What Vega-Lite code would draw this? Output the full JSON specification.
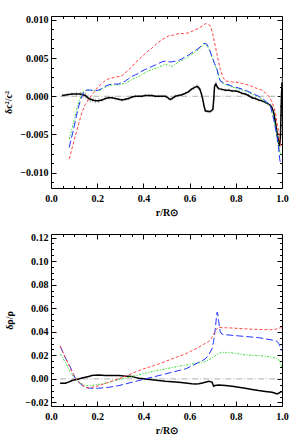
{
"$schema":"https://vega.github.io/schema/vega-lite/v6.json",
"padding":{"left":3,"top":14,"right":5,"bottom":0},
"spacing":14,
"config":{"axis":{"labelFont":"Liberation Serif","labelFontWeight":"bold","labelFontSize":10,"titleFont":"Liberation Serif","titleFontWeight":"bold","titleFontSize":10,"tickColor":"black","labelColor":"black","titleColor":"black","grid":false,"domain":false,"labelOverlap":false,"labelFlush":false,"tickWidth":1},"view":{"stroke":"black","strokeWidth":1}},
"datasets":{
"top":[
{"s":"zero","x":0.04,"y":0},{"s":"zero","x":1.0,"y":0},
{"s":"red","x":0.079,"y":-0.0082},{"s":"red","x":0.092,"y":-0.0067},{"s":"red","x":0.105,"y":-0.0052},{"s":"red","x":0.12,"y":-0.0036},{"s":"red","x":0.134,"y":-0.0021},{"s":"red","x":0.148,"y":-0.0011},{"s":"red","x":0.163,"y":-0.0004},{"s":"red","x":0.185,"y":0.0005},{"s":"red","x":0.206,"y":0.0013},{"s":"red","x":0.228,"y":0.0019},{"s":"red","x":0.25,"y":0.0023},{"s":"red","x":0.28,"y":0.0025},{"s":"red","x":0.307,"y":0.0027},{"s":"red","x":0.33,"y":0.0033},{"s":"red","x":0.351,"y":0.0039},{"s":"red","x":0.372,"y":0.0046},{"s":"red","x":0.394,"y":0.0052},{"s":"red","x":0.415,"y":0.0058},{"s":"red","x":0.437,"y":0.0063},{"s":"red","x":0.458,"y":0.0069},{"s":"red","x":0.48,"y":0.0074},{"s":"red","x":0.509,"y":0.0079},{"s":"red","x":0.53,"y":0.008},{"s":"red","x":0.553,"y":0.0082},{"s":"red","x":0.575,"y":0.0082},{"s":"red","x":0.596,"y":0.0083},{"s":"red","x":0.618,"y":0.0086},{"s":"red","x":0.64,"y":0.0089},{"s":"red","x":0.655,"y":0.0092},{"s":"red","x":0.668,"y":0.0095},{"s":"red","x":0.68,"y":0.0094},{"s":"red","x":0.69,"y":0.0092},{"s":"red","x":0.7,"y":0.0082},{"s":"red","x":0.711,"y":0.0066},{"s":"red","x":0.722,"y":0.005},{"s":"red","x":0.733,"y":0.0035},{"s":"red","x":0.744,"y":0.0025},{"s":"red","x":0.755,"y":0.002},{"s":"red","x":0.78,"y":0.0019},{"s":"red","x":0.812,"y":0.0018},{"s":"red","x":0.84,"y":0.0016},{"s":"red","x":0.87,"y":0.0013},{"s":"red","x":0.893,"y":0.001},{"s":"red","x":0.913,"y":0.0008},{"s":"red","x":0.93,"y":0.0004},{"s":"red","x":0.942,"y":0.0},{"s":"red","x":0.954,"y":-0.0006},{"s":"red","x":0.964,"y":-0.0013},{"s":"red","x":0.972,"y":-0.0022},{"s":"red","x":0.978,"y":-0.0034},{"s":"red","x":0.986,"y":-0.0048},{"s":"red","x":0.993,"y":-0.0062},{"s":"red","x":0.997,"y":-0.0066},
{"s":"blue","x":0.079,"y":-0.0067},{"s":"blue","x":0.088,"y":-0.0055},{"s":"blue","x":0.098,"y":-0.0043},{"s":"blue","x":0.109,"y":-0.0027},{"s":"blue","x":0.12,"y":-0.0013},{"s":"blue","x":0.13,"y":-0.0003},{"s":"blue","x":0.141,"y":0.0005},{"s":"blue","x":0.152,"y":0.0008},{"s":"blue","x":0.163,"y":0.0008},{"s":"blue","x":0.177,"y":0.0008},{"s":"blue","x":0.19,"y":0.0007},{"s":"blue","x":0.205,"y":0.0008},{"s":"blue","x":0.214,"y":0.0009},{"s":"blue","x":0.235,"y":0.0013},{"s":"blue","x":0.25,"y":0.0015},{"s":"blue","x":0.264,"y":0.0016},{"s":"blue","x":0.28,"y":0.0016},{"s":"blue","x":0.293,"y":0.0016},{"s":"blue","x":0.307,"y":0.0018},{"s":"blue","x":0.322,"y":0.002},{"s":"blue","x":0.336,"y":0.0023},{"s":"blue","x":0.351,"y":0.0026},{"s":"blue","x":0.365,"y":0.0028},{"s":"blue","x":0.38,"y":0.003},{"s":"blue","x":0.394,"y":0.0033},{"s":"blue","x":0.408,"y":0.0035},{"s":"blue","x":0.423,"y":0.0037},{"s":"blue","x":0.437,"y":0.0039},{"s":"blue","x":0.452,"y":0.0041},{"s":"blue","x":0.466,"y":0.0043},{"s":"blue","x":0.48,"y":0.0045},{"s":"blue","x":0.495,"y":0.0046},{"s":"blue","x":0.51,"y":0.0045},{"s":"blue","x":0.524,"y":0.0045},{"s":"blue","x":0.538,"y":0.0046},{"s":"blue","x":0.553,"y":0.0047},{"s":"blue","x":0.567,"y":0.0049},{"s":"blue","x":0.582,"y":0.0052},{"s":"blue","x":0.596,"y":0.0054},{"s":"blue","x":0.61,"y":0.0057},{"s":"blue","x":0.625,"y":0.006},{"s":"blue","x":0.64,"y":0.0063},{"s":"blue","x":0.651,"y":0.0066},{"s":"blue","x":0.661,"y":0.0069},{"s":"blue","x":0.668,"y":0.0069},{"s":"blue","x":0.675,"y":0.0068},{"s":"blue","x":0.686,"y":0.0061},{"s":"blue","x":0.697,"y":0.0052},{"s":"blue","x":0.708,"y":0.0043},{"s":"blue","x":0.719,"y":0.0035},{"s":"blue","x":0.726,"y":0.0026},{"s":"blue","x":0.733,"y":0.002},{"s":"blue","x":0.745,"y":0.0018},{"s":"blue","x":0.755,"y":0.0016},{"s":"blue","x":0.77,"y":0.0015},{"s":"blue","x":0.784,"y":0.0013},{"s":"blue","x":0.81,"y":0.0011},{"s":"blue","x":0.841,"y":0.0008},{"s":"blue","x":0.87,"y":0.0004},{"s":"blue","x":0.899,"y":0.0},{"s":"blue","x":0.92,"y":-0.0004},{"s":"blue","x":0.935,"y":-0.0008},{"s":"blue","x":0.95,"y":-0.0013},{"s":"blue","x":0.957,"y":-0.0021},{"s":"blue","x":0.964,"y":-0.003},{"s":"blue","x":0.971,"y":-0.0041},{"s":"blue","x":0.978,"y":-0.0052},{"s":"blue","x":0.985,"y":-0.0067},{"s":"blue","x":0.99,"y":-0.0082},{"s":"blue","x":0.994,"y":-0.0089},
{"s":"green","x":0.079,"y":-0.0056},{"s":"green","x":0.088,"y":-0.0045},{"s":"green","x":0.098,"y":-0.0034},{"s":"green","x":0.109,"y":-0.002},{"s":"green","x":0.12,"y":-0.0008},{"s":"green","x":0.13,"y":0.0},{"s":"green","x":0.141,"y":0.0006},{"s":"green","x":0.152,"y":0.0008},{"s":"green","x":0.163,"y":0.0008},{"s":"green","x":0.19,"y":0.0007},{"s":"green","x":0.214,"y":0.0008},{"s":"green","x":0.235,"y":0.0012},{"s":"green","x":0.264,"y":0.0015},{"s":"green","x":0.293,"y":0.0015},{"s":"green","x":0.322,"y":0.0017},{"s":"green","x":0.351,"y":0.0022},{"s":"green","x":0.38,"y":0.0026},{"s":"green","x":0.408,"y":0.0031},{"s":"green","x":0.437,"y":0.0035},{"s":"green","x":0.466,"y":0.0038},{"s":"green","x":0.495,"y":0.0042},{"s":"green","x":0.51,"y":0.004},{"s":"green","x":0.524,"y":0.0039},{"s":"green","x":0.538,"y":0.0042},{"s":"green","x":0.553,"y":0.0045},{"s":"green","x":0.567,"y":0.0047},{"s":"green","x":0.582,"y":0.0049},{"s":"green","x":0.61,"y":0.0055},{"s":"green","x":0.625,"y":0.0058},{"s":"green","x":0.64,"y":0.0061},{"s":"green","x":0.655,"y":0.0066},{"s":"green","x":0.665,"y":0.0068},{"s":"green","x":0.675,"y":0.0067},{"s":"green","x":0.686,"y":0.006},{"s":"green","x":0.697,"y":0.0051},{"s":"green","x":0.708,"y":0.0042},{"s":"green","x":0.719,"y":0.0034},{"s":"green","x":0.733,"y":0.0019},{"s":"green","x":0.755,"y":0.0015},{"s":"green","x":0.784,"y":0.0012},{"s":"green","x":0.841,"y":0.0007},{"s":"green","x":0.899,"y":-0.0001},{"s":"green","x":0.935,"y":-0.0009},{"s":"green","x":0.95,"y":-0.0013},{"s":"green","x":0.964,"y":-0.003},{"s":"green","x":0.978,"y":-0.005},{"s":"green","x":0.988,"y":-0.0068},{"s":"green","x":0.995,"y":-0.0078},
{"s":"black","x":0.048,"y":0.0001,"err":0.0002},{"s":"black","x":0.07,"y":0.0002,"err":0.0002},{"s":"black","x":0.091,"y":0.0003,"err":0.0002},{"s":"black","x":0.11,"y":0.0003,"err":0.0003},{"s":"black","x":0.127,"y":0.0003,"err":0.0003},{"s":"black","x":0.138,"y":0.0002,"err":0.0004},{"s":"black","x":0.149,"y":0.0001,"err":0.0004},{"s":"black","x":0.16,"y":-0.0002,"err":0.0004},{"s":"black","x":0.17,"y":-0.0004,"err":0.0004},{"s":"black","x":0.181,"y":-0.0005,"err":0.0003},{"s":"black","x":0.192,"y":-0.0006,"err":0.0003},{"s":"black","x":0.206,"y":-0.0006,"err":0.0003},{"s":"black","x":0.221,"y":-0.0005,"err":0.0002},{"s":"black","x":0.235,"y":-0.0003,"err":0.0002},{"s":"black","x":0.25,"y":-0.0002,"err":0.0002},{"s":"black","x":0.264,"y":-0.0002,"err":0.0002},{"s":"black","x":0.278,"y":-0.0003,"err":0.0002},{"s":"black","x":0.293,"y":-0.0004,"err":0.0002},{"s":"black","x":0.307,"y":-0.0005,"err":0.0002},{"s":"black","x":0.322,"y":-0.0004,"err":0.0002},{"s":"black","x":0.336,"y":-0.0003,"err":0.0002},{"s":"black","x":0.35,"y":-0.0001,"err":0.0002},{"s":"black","x":0.365,"y":0.0,"err":0.0002},{"s":"black","x":0.38,"y":0.0,"err":0.0002},{"s":"black","x":0.394,"y":0.0,"err":0.0002},{"s":"black","x":0.408,"y":0.0001,"err":0.0002},{"s":"black","x":0.423,"y":0.0001,"err":0.0002},{"s":"black","x":0.437,"y":0.0001,"err":0.0002},{"s":"black","x":0.452,"y":0.0,"err":0.0002},{"s":"black","x":0.466,"y":0.0,"err":0.0002},{"s":"black","x":0.48,"y":0.0,"err":0.0002},{"s":"black","x":0.495,"y":0.0,"err":0.0002},{"s":"black","x":0.502,"y":-0.0001,"err":0.0002},{"s":"black","x":0.51,"y":-0.0003,"err":0.0002},{"s":"black","x":0.517,"y":-0.0004,"err":0.0002},{"s":"black","x":0.524,"y":-0.0003,"err":0.0002},{"s":"black","x":0.538,"y":0.0,"err":0.0002},{"s":"black","x":0.553,"y":0.0001,"err":0.0002},{"s":"black","x":0.567,"y":0.0002,"err":0.0002},{"s":"black","x":0.582,"y":0.0004,"err":0.0002},{"s":"black","x":0.596,"y":0.0006,"err":0.0002},{"s":"black","x":0.607,"y":0.0009,"err":0.0002},{"s":"black","x":0.618,"y":0.0011,"err":0.0003},{"s":"black","x":0.632,"y":0.0013,"err":0.0003},{"s":"black","x":0.64,"y":0.0011,"err":0.0003},{"s":"black","x":0.646,"y":0.0008,"err":0.0003},{"s":"black","x":0.652,"y":0.0002,"err":0.0003},{"s":"black","x":0.657,"y":-0.0004,"err":0.0003},{"s":"black","x":0.662,"y":-0.0012,"err":0.0003},{"s":"black","x":0.668,"y":-0.0019,"err":0.0002},{"s":"black","x":0.68,"y":-0.002,"err":0.0002},{"s":"black","x":0.69,"y":-0.002,"err":0.0002},{"s":"black","x":0.701,"y":-0.0017,"err":0.0003},{"s":"black","x":0.705,"y":-0.0002,"err":0.0003},{"s":"black","x":0.708,"y":0.0013,"err":0.0003},{"s":"black","x":0.714,"y":0.0016,"err":0.0003},{"s":"black","x":0.72,"y":0.0012,"err":0.0002},{"s":"black","x":0.726,"y":0.001,"err":0.0002},{"s":"black","x":0.74,"y":0.0009,"err":0.0002},{"s":"black","x":0.755,"y":0.0008,"err":0.0002},{"s":"black","x":0.77,"y":0.0008,"err":0.0002},{"s":"black","x":0.784,"y":0.0007,"err":0.0002},{"s":"black","x":0.8,"y":0.0007,"err":0.0002},{"s":"black","x":0.812,"y":0.0006,"err":0.0002},{"s":"black","x":0.826,"y":0.0004,"err":0.0002},{"s":"black","x":0.841,"y":0.0003,"err":0.0002},{"s":"black","x":0.855,"y":0.0001,"err":0.0002},{"s":"black","x":0.87,"y":-0.0002,"err":0.0002},{"s":"black","x":0.885,"y":-0.0003,"err":0.0002},{"s":"black","x":0.899,"y":-0.0005,"err":0.0002},{"s":"black","x":0.913,"y":-0.0006,"err":0.0002},{"s":"black","x":0.928,"y":-0.0008,"err":0.0002},{"s":"black","x":0.94,"y":-0.001,"err":0.0002},{"s":"black","x":0.95,"y":-0.0012,"err":0.0002},{"s":"black","x":0.957,"y":-0.0015,"err":0.0003},{"s":"black","x":0.964,"y":-0.0021,"err":0.0003},{"s":"black","x":0.971,"y":-0.0033,"err":0.0004},{"s":"black","x":0.978,"y":-0.0047,"err":0.0005},{"s":"black","x":0.984,"y":-0.0058,"err":0.0006},{"s":"black","x":0.988,"y":-0.0065,"err":0.0008},{"s":"black","x":0.993,"y":-0.0056,"err":0.001},{"s":"black","x":0.997,"y":-0.0008,"err":0.0015},{"s":"black","x":1.0,"y":0.0018,"err":0.0008}
],
"bot":[
{"s":"zero","x":0.04,"y":0},{"s":"zero","x":1.0,"y":0},
{"s":"red","x":0.04,"y":0.028},{"s":"red","x":0.051,"y":0.023},{"s":"red","x":0.062,"y":0.018},{"s":"red","x":0.073,"y":0.0135},{"s":"red","x":0.084,"y":0.0088},{"s":"red","x":0.095,"y":0.0045},{"s":"red","x":0.105,"y":0.0006},{"s":"red","x":0.12,"y":-0.0025},{"s":"red","x":0.134,"y":-0.0048},{"s":"red","x":0.145,"y":-0.0065},{"s":"red","x":0.156,"y":-0.0076},{"s":"red","x":0.166,"y":-0.0077},{"s":"red","x":0.177,"y":-0.0071},{"s":"red","x":0.19,"y":-0.0066},{"s":"red","x":0.206,"y":-0.0057},{"s":"red","x":0.228,"y":-0.0043},{"s":"red","x":0.25,"y":-0.0028},{"s":"red","x":0.27,"y":-0.0015},{"s":"red","x":0.293,"y":0.0},{"s":"red","x":0.315,"y":0.0017},{"s":"red","x":0.336,"y":0.0034},{"s":"red","x":0.358,"y":0.0052},{"s":"red","x":0.38,"y":0.0071},{"s":"red","x":0.4,"y":0.0085},{"s":"red","x":0.423,"y":0.0099},{"s":"red","x":0.445,"y":0.0113},{"s":"red","x":0.466,"y":0.0127},{"s":"red","x":0.495,"y":0.0148},{"s":"red","x":0.524,"y":0.017},{"s":"red","x":0.553,"y":0.0191},{"s":"red","x":0.582,"y":0.0212},{"s":"red","x":0.61,"y":0.024},{"s":"red","x":0.64,"y":0.0269},{"s":"red","x":0.66,"y":0.0293},{"s":"red","x":0.683,"y":0.0317},{"s":"red","x":0.694,"y":0.0345},{"s":"red","x":0.704,"y":0.038},{"s":"red","x":0.715,"y":0.042},{"s":"red","x":0.726,"y":0.0437},{"s":"red","x":0.74,"y":0.0435},{"s":"red","x":0.755,"y":0.0434},{"s":"red","x":0.784,"y":0.0432},{"s":"red","x":0.812,"y":0.0428},{"s":"red","x":0.841,"y":0.0425},{"s":"red","x":0.87,"y":0.0422},{"s":"red","x":0.9,"y":0.042},{"s":"red","x":0.928,"y":0.0418},{"s":"red","x":0.95,"y":0.0418},{"s":"red","x":0.971,"y":0.0421},{"s":"red","x":0.985,"y":0.0428},{"s":"red","x":0.993,"y":0.0436},{"s":"red","x":1.0,"y":0.043},
{"s":"blue","x":0.04,"y":0.0277},{"s":"blue","x":0.051,"y":0.0228},{"s":"blue","x":0.062,"y":0.018},{"s":"blue","x":0.073,"y":0.014},{"s":"blue","x":0.084,"y":0.0099},{"s":"blue","x":0.095,"y":0.005},{"s":"blue","x":0.105,"y":0.0006},{"s":"blue","x":0.116,"y":-0.002},{"s":"blue","x":0.127,"y":-0.0042},{"s":"blue","x":0.138,"y":-0.006},{"s":"blue","x":0.149,"y":-0.0071},{"s":"blue","x":0.16,"y":-0.0077},{"s":"blue","x":0.17,"y":-0.0079},{"s":"blue","x":0.19,"y":-0.008},{"s":"blue","x":0.206,"y":-0.0079},{"s":"blue","x":0.228,"y":-0.0076},{"s":"blue","x":0.25,"y":-0.0071},{"s":"blue","x":0.27,"y":-0.0065},{"s":"blue","x":0.293,"y":-0.0057},{"s":"blue","x":0.322,"y":-0.0043},{"s":"blue","x":0.351,"y":-0.0028},{"s":"blue","x":0.38,"y":-0.0014},{"s":"blue","x":0.408,"y":0.0},{"s":"blue","x":0.437,"y":0.0014},{"s":"blue","x":0.466,"y":0.0028},{"s":"blue","x":0.495,"y":0.0042},{"s":"blue","x":0.524,"y":0.0057},{"s":"blue","x":0.553,"y":0.0071},{"s":"blue","x":0.582,"y":0.0085},{"s":"blue","x":0.61,"y":0.011},{"s":"blue","x":0.64,"y":0.0141},{"s":"blue","x":0.655,"y":0.0155},{"s":"blue","x":0.668,"y":0.017},{"s":"blue","x":0.683,"y":0.0205},{"s":"blue","x":0.697,"y":0.0255},{"s":"blue","x":0.704,"y":0.032},{"s":"blue","x":0.711,"y":0.042},{"s":"blue","x":0.715,"y":0.05},{"s":"blue","x":0.719,"y":0.0566},{"s":"blue","x":0.722,"y":0.055},{"s":"blue","x":0.726,"y":0.049},{"s":"blue","x":0.73,"y":0.043},{"s":"blue","x":0.733,"y":0.04},{"s":"blue","x":0.74,"y":0.038},{"s":"blue","x":0.755,"y":0.0375},{"s":"blue","x":0.784,"y":0.037},{"s":"blue","x":0.812,"y":0.0365},{"s":"blue","x":0.841,"y":0.036},{"s":"blue","x":0.87,"y":0.0355},{"s":"blue","x":0.899,"y":0.035},{"s":"blue","x":0.928,"y":0.034},{"s":"blue","x":0.957,"y":0.033},{"s":"blue","x":0.978,"y":0.032},{"s":"blue","x":0.986,"y":0.03},{"s":"blue","x":0.993,"y":0.027},{"s":"blue","x":0.997,"y":0.024},
{"s":"green","x":0.04,"y":0.021},{"s":"green","x":0.051,"y":0.0175},{"s":"green","x":0.062,"y":0.0141},{"s":"green","x":0.073,"y":0.01},{"s":"green","x":0.084,"y":0.0057},{"s":"green","x":0.095,"y":0.0025},{"s":"green","x":0.105,"y":0.0},{"s":"green","x":0.12,"y":-0.0022},{"s":"green","x":0.134,"y":-0.0042},{"s":"green","x":0.145,"y":-0.0052},{"s":"green","x":0.156,"y":-0.0057},{"s":"green","x":0.17,"y":-0.0057},{"s":"green","x":0.19,"y":-0.0051},{"s":"green","x":0.21,"y":-0.0045},{"s":"green","x":0.235,"y":-0.0037},{"s":"green","x":0.256,"y":-0.0027},{"s":"green","x":0.278,"y":-0.0014},{"s":"green","x":0.3,"y":-0.0003},{"s":"green","x":0.322,"y":0.0008},{"s":"green","x":0.35,"y":0.002},{"s":"green","x":0.38,"y":0.0034},{"s":"green","x":0.408,"y":0.0048},{"s":"green","x":0.437,"y":0.0062},{"s":"green","x":0.466,"y":0.0074},{"s":"green","x":0.495,"y":0.0085},{"s":"green","x":0.524,"y":0.0096},{"s":"green","x":0.553,"y":0.0107},{"s":"green","x":0.582,"y":0.0117},{"s":"green","x":0.61,"y":0.0127},{"s":"green","x":0.64,"y":0.0137},{"s":"green","x":0.668,"y":0.0147},{"s":"green","x":0.69,"y":0.017},{"s":"green","x":0.711,"y":0.0198},{"s":"green","x":0.725,"y":0.0215},{"s":"green","x":0.74,"y":0.0226},{"s":"green","x":0.76,"y":0.0225},{"s":"green","x":0.784,"y":0.0221},{"s":"green","x":0.81,"y":0.0213},{"s":"green","x":0.841,"y":0.0204},{"s":"green","x":0.87,"y":0.0201},{"s":"green","x":0.899,"y":0.0198},{"s":"green","x":0.93,"y":0.0192},{"s":"green","x":0.957,"y":0.0184},{"s":"green","x":0.975,"y":0.0175},{"s":"green","x":0.986,"y":0.0164},{"s":"green","x":0.993,"y":0.013},{"s":"green","x":1.0,"y":0.0099},
{"s":"black","x":0.04,"y":-0.0037,"err":0.0008},{"s":"black","x":0.051,"y":-0.0037,"err":0.0008},{"s":"black","x":0.062,"y":-0.0037,"err":0.0007},{"s":"black","x":0.076,"y":-0.0027,"err":0.0006},{"s":"black","x":0.091,"y":-0.0014,"err":0.0005},{"s":"black","x":0.105,"y":-0.0007,"err":0.0004},{"s":"black","x":0.12,"y":0.0,"err":0.0004},{"s":"black","x":0.134,"y":0.0007,"err":0.0003},{"s":"black","x":0.149,"y":0.0014,"err":0.0003},{"s":"black","x":0.163,"y":0.0021,"err":0.0003},{"s":"black","x":0.177,"y":0.0028,"err":0.0002},{"s":"black","x":0.19,"y":0.0032,"err":0.0002},{"s":"black","x":0.206,"y":0.0034,"err":0.0002},{"s":"black","x":0.22,"y":0.0031,"err":0.0002},{"s":"black","x":0.235,"y":0.0028,"err":0.0002},{"s":"black","x":0.25,"y":0.0028,"err":0.0002},{"s":"black","x":0.264,"y":0.0028,"err":0.0002},{"s":"black","x":0.278,"y":0.0029,"err":0.0002},{"s":"black","x":0.293,"y":0.0028,"err":0.0002},{"s":"black","x":0.307,"y":0.0026,"err":0.0002},{"s":"black","x":0.322,"y":0.0023,"err":0.0002},{"s":"black","x":0.336,"y":0.0022,"err":0.0002},{"s":"black","x":0.351,"y":0.002,"err":0.0002},{"s":"black","x":0.365,"y":0.0013,"err":0.0002},{"s":"black","x":0.38,"y":0.0006,"err":0.0002},{"s":"black","x":0.394,"y":0.0003,"err":0.0002},{"s":"black","x":0.408,"y":0.0,"err":0.0002},{"s":"black","x":0.437,"y":-0.0008,"err":0.0002},{"s":"black","x":0.466,"y":-0.0014,"err":0.0002},{"s":"black","x":0.495,"y":-0.002,"err":0.0002},{"s":"black","x":0.524,"y":-0.0024,"err":0.0002},{"s":"black","x":0.553,"y":-0.0028,"err":0.0002},{"s":"black","x":0.582,"y":-0.0035,"err":0.0002},{"s":"black","x":0.61,"y":-0.0042,"err":0.0002},{"s":"black","x":0.625,"y":-0.0044,"err":0.0002},{"s":"black","x":0.64,"y":-0.0042,"err":0.0002},{"s":"black","x":0.655,"y":-0.0035,"err":0.0002},{"s":"black","x":0.668,"y":-0.0028,"err":0.0002},{"s":"black","x":0.683,"y":-0.002,"err":0.0002},{"s":"black","x":0.69,"y":-0.0023,"err":0.0002},{"s":"black","x":0.697,"y":-0.0028,"err":0.0002},{"s":"black","x":0.701,"y":-0.0045,"err":0.0003},{"s":"black","x":0.704,"y":-0.0062,"err":0.0003},{"s":"black","x":0.71,"y":-0.0055,"err":0.0002},{"s":"black","x":0.726,"y":-0.0051,"err":0.0002},{"s":"black","x":0.755,"y":-0.0056,"err":0.0002},{"s":"black","x":0.784,"y":-0.0062,"err":0.0002},{"s":"black","x":0.812,"y":-0.007,"err":0.0002},{"s":"black","x":0.841,"y":-0.0079,"err":0.0002},{"s":"black","x":0.87,"y":-0.0089,"err":0.0002},{"s":"black","x":0.899,"y":-0.0099,"err":0.0002},{"s":"black","x":0.928,"y":-0.0106,"err":0.0002},{"s":"black","x":0.957,"y":-0.0113,"err":0.0002},{"s":"black","x":0.971,"y":-0.0122,"err":0.0003},{"s":"black","x":0.978,"y":-0.0127,"err":0.0004},{"s":"black","x":0.985,"y":-0.0122,"err":0.0004},{"s":"black","x":0.993,"y":-0.0113,"err":0.0003},{"s":"black","x":1.0,"y":-0.0105,"err":0.0003}
]
},
"vconcat":[
{
"width":231,"height":172,
"data":{"name":"top"},
"resolve":{"axis":{"x":"independent","y":"independent"}},
"layer":[
{"transform":[{"filter":"datum.s==='zero'"}],"mark":{"type":"line","color":"#b0b0b0","strokeDash":[6,2,1,2],"strokeWidth":1},
 "encoding":{
  "x":{"field":"x","type":"quantitative","scale":{"domain":[0,1],"nice":false,"zero":false},
   "axis":{"orient":"bottom","values":[0,0.05,0.1,0.15,0.2,0.25,0.3,0.35,0.4,0.45,0.5,0.55,0.6,0.65,0.7,0.75,0.8,0.85,0.9,0.95,1],"labelExpr":"abs(datum.value*5-round(datum.value*5))<1e-6 ? format(datum.value,'.1f') : ''","tickSize":{"condition":{"test":"abs(datum.value*5-round(datum.value*5))<1e-6","value":-5},"value":-2.5},"title":"r/R⊙","labelPadding":10,"titlePadding":2}},
  "y":{"field":"y","type":"quantitative","scale":{"domain":[-0.012,0.0105],"nice":false,"zero":false},
   "axis":{"orient":"left","values":[-0.01125,-0.01,-0.00875,-0.0075,-0.00625,-0.005,-0.00375,-0.0025,-0.00125,0,0.00125,0.0025,0.00375,0.005,0.00625,0.0075,0.00875,0.01],"labelExpr":"abs(datum.value*200-round(datum.value*200))<1e-6 ? format(datum.value,'.3f') : ''","tickSize":{"condition":{"test":"abs(datum.value*200-round(datum.value*200))<1e-6","value":-5},"value":-2.5},"title":"δc²/c²","labelPadding":8,"titlePadding":6}}
 }},
{"transform":[{"filter":"datum.s==='zero'"}],"mark":{"type":"line","opacity":0},
 "encoding":{
  "x":{"field":"x","type":"quantitative","axis":{"orient":"top","values":[0,0.05,0.1,0.15,0.2,0.25,0.3,0.35,0.4,0.45,0.5,0.55,0.6,0.65,0.7,0.75,0.8,0.85,0.9,0.95,1],"labels":false,"title":null,"tickSize":{"condition":{"test":"abs(datum.value*5-round(datum.value*5))<1e-6","value":-5},"value":-2.5}}},
  "y":{"field":"y","type":"quantitative","axis":{"orient":"right","values":[-0.01125,-0.01,-0.00875,-0.0075,-0.00625,-0.005,-0.00375,-0.0025,-0.00125,0,0.00125,0.0025,0.00375,0.005,0.00625,0.0075,0.00875,0.01],"labels":false,"title":null,"tickSize":{"condition":{"test":"abs(datum.value*200-round(datum.value*200))<1e-6","value":-5},"value":-2.5}}}
 }},
{"transform":[{"filter":"datum.s==='black'"}],"mark":{"type":"errorbar","color":"#a0a0a0","thickness":0.8},
 "encoding":{"x":{"field":"x","type":"quantitative","axis":null},"y":{"field":"y","type":"quantitative","axis":null},"yError":{"field":"err"}}},
{"transform":[{"filter":"datum.s==='black'"}],"mark":{"type":"line","color":"black","strokeWidth":1.5},
 "encoding":{"x":{"field":"x","type":"quantitative","axis":null},"y":{"field":"y","type":"quantitative","axis":null}}},
{"transform":[{"filter":"datum.s==='green'"}],"mark":{"type":"line","color":"#33dd33","strokeWidth":1,"strokeDash":[2,1.5,1,1.5]},
 "encoding":{"x":{"field":"x","type":"quantitative","axis":null},"y":{"field":"y","type":"quantitative","axis":null}}},
{"transform":[{"filter":"datum.s==='blue'"}],"mark":{"type":"line","color":"#2233ff","strokeWidth":1,"strokeDash":[7,3]},
 "encoding":{"x":{"field":"x","type":"quantitative","axis":null},"y":{"field":"y","type":"quantitative","axis":null}}},
{"transform":[{"filter":"datum.s==='red'"}],"mark":{"type":"line","color":"#ff4444","strokeWidth":1,"strokeDash":[3,2]},
 "encoding":{"x":{"field":"x","type":"quantitative","axis":null},"y":{"field":"y","type":"quantitative","axis":null}}}
]
},
{
"width":231,"height":172,
"data":{"name":"bot"},
"resolve":{"axis":{"x":"independent","y":"independent"}},
"layer":[
{"transform":[{"filter":"datum.s==='zero'"}],"mark":{"type":"line","color":"#b0b0b0","strokeDash":[6,2,1,2],"strokeWidth":1},
 "encoding":{
  "x":{"field":"x","type":"quantitative","scale":{"domain":[0,1],"nice":false,"zero":false},
   "axis":{"orient":"bottom","values":[0,0.05,0.1,0.15,0.2,0.25,0.3,0.35,0.4,0.45,0.5,0.55,0.6,0.65,0.7,0.75,0.8,0.85,0.9,0.95,1],"labelExpr":"abs(datum.value*5-round(datum.value*5))<1e-6 ? format(datum.value,'.1f') : ''","tickSize":{"condition":{"test":"abs(datum.value*5-round(datum.value*5))<1e-6","value":-5},"value":-2.5},"title":"r/R⊙","labelPadding":10,"titlePadding":2}},
  "y":{"field":"y","type":"quantitative","scale":{"domain":[-0.023,0.123],"nice":false,"zero":false},
   "axis":{"orient":"left","values":[-0.02,-0.015,-0.01,-0.005,0,0.005,0.01,0.015,0.02,0.025,0.03,0.035,0.04,0.045,0.05,0.055,0.06,0.065,0.07,0.075,0.08,0.085,0.09,0.095,0.1,0.105,0.11,0.115,0.12],"labelExpr":"abs(datum.value*50-round(datum.value*50))<1e-6 ? format(datum.value,'.2f') : ''","tickSize":{"condition":{"test":"abs(datum.value*50-round(datum.value*50))<1e-6","value":-5},"value":-2.5},"title":"δρ/ρ","labelPadding":8,"titlePadding":10}}
 }},
{"transform":[{"filter":"datum.s==='zero'"}],"mark":{"type":"line","opacity":0},
 "encoding":{
  "x":{"field":"x","type":"quantitative","axis":{"orient":"top","values":[0,0.05,0.1,0.15,0.2,0.25,0.3,0.35,0.4,0.45,0.5,0.55,0.6,0.65,0.7,0.75,0.8,0.85,0.9,0.95,1],"labels":false,"title":null,"tickSize":{"condition":{"test":"abs(datum.value*5-round(datum.value*5))<1e-6","value":-5},"value":-2.5}}},
  "y":{"field":"y","type":"quantitative","axis":{"orient":"right","values":[-0.02,-0.015,-0.01,-0.005,0,0.005,0.01,0.015,0.02,0.025,0.03,0.035,0.04,0.045,0.05,0.055,0.06,0.065,0.07,0.075,0.08,0.085,0.09,0.095,0.1,0.105,0.11,0.115,0.12],"labels":false,"title":null,"tickSize":{"condition":{"test":"abs(datum.value*50-round(datum.value*50))<1e-6","value":-5},"value":-2.5}}}
 }},
{"transform":[{"filter":"datum.s==='black'"}],"mark":{"type":"errorbar","color":"#a0a0a0","thickness":0.8},
 "encoding":{"x":{"field":"x","type":"quantitative","axis":null},"y":{"field":"y","type":"quantitative","axis":null},"yError":{"field":"err"}}},
{"transform":[{"filter":"datum.s==='black'"}],"mark":{"type":"line","color":"black","strokeWidth":1.5},
 "encoding":{"x":{"field":"x","type":"quantitative","axis":null},"y":{"field":"y","type":"quantitative","axis":null}}},
{"transform":[{"filter":"datum.s==='green'"}],"mark":{"type":"line","color":"#33dd33","strokeWidth":1,"strokeDash":[2,1.5,1,1.5]},
 "encoding":{"x":{"field":"x","type":"quantitative","axis":null},"y":{"field":"y","type":"quantitative","axis":null}}},
{"transform":[{"filter":"datum.s==='blue'"}],"mark":{"type":"line","color":"#2233ff","strokeWidth":1,"strokeDash":[7,3]},
 "encoding":{"x":{"field":"x","type":"quantitative","axis":null},"y":{"field":"y","type":"quantitative","axis":null}}},
{"transform":[{"filter":"datum.s==='red'"}],"mark":{"type":"line","color":"#ff4444","strokeWidth":1,"strokeDash":[3,2]},
 "encoding":{"x":{"field":"x","type":"quantitative","axis":null},"y":{"field":"y","type":"quantitative","axis":null}}}
]
}
]
}
